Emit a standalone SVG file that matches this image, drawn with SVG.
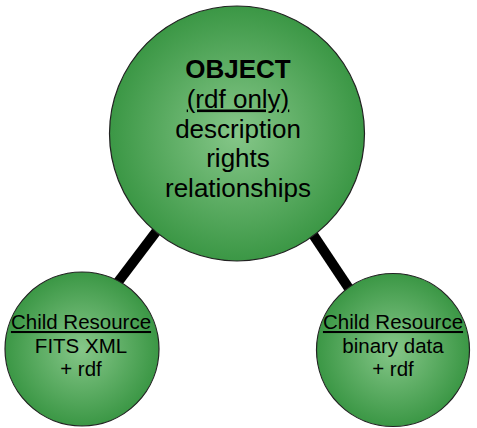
<svg xmlns="http://www.w3.org/2000/svg" width="477" height="428" viewBox="0 0 477 428">
<style>
.node{stroke:#222;stroke-width:1.2;fill:url(#g)}
.conn{stroke:#000;stroke-width:10;stroke-linecap:butt}
text{font-family:"Liberation Sans",Arial,sans-serif;fill:#000;text-anchor:middle}
.big{font-size:26px}
.small{font-size:20.5px}
.u{text-decoration:underline}
</style>
<defs>
<radialGradient id="g" cx="50%" cy="50%" r="50%">
<stop offset="0" stop-color="#86c789"/>
<stop offset="1" stop-color="#3b9745"/>
</radialGradient>
</defs>
<rect width="477" height="428" fill="#fff"/>
<g id="connectors">
<line class="conn" x1="165" y1="220" x2="112" y2="290"/>
<line class="conn" x1="306" y1="224" x2="352" y2="293"/>
</g>
<g id="object">
<circle class="node" cx="237" cy="133.5" r="127.5"/>
<text class="big" x="238" y="78" font-weight="bold">OBJECT</text>
<text class="big u" x="238" y="107.5">(rdf only)</text>
<text class="big" x="238" y="137.5">description</text>
<text class="big" x="238" y="167">rights</text>
<text class="big" x="238" y="197">relationships</text>
</g>
<g id="child1">
<circle class="node" cx="82" cy="349" r="77"/>
<text class="small u" x="81" y="329">Child Resource</text>
<text class="small" x="81" y="353">FITS XML</text>
<text class="small" x="81" y="376">+ rdf</text>
</g>
<g id="child2">
<circle class="node" cx="393" cy="350" r="76.5"/>
<text class="small u" x="393" y="329">Child Resource</text>
<text class="small" x="393" y="353">binary data</text>
<text class="small" x="393" y="376">+ rdf</text>
</g>
</svg>
